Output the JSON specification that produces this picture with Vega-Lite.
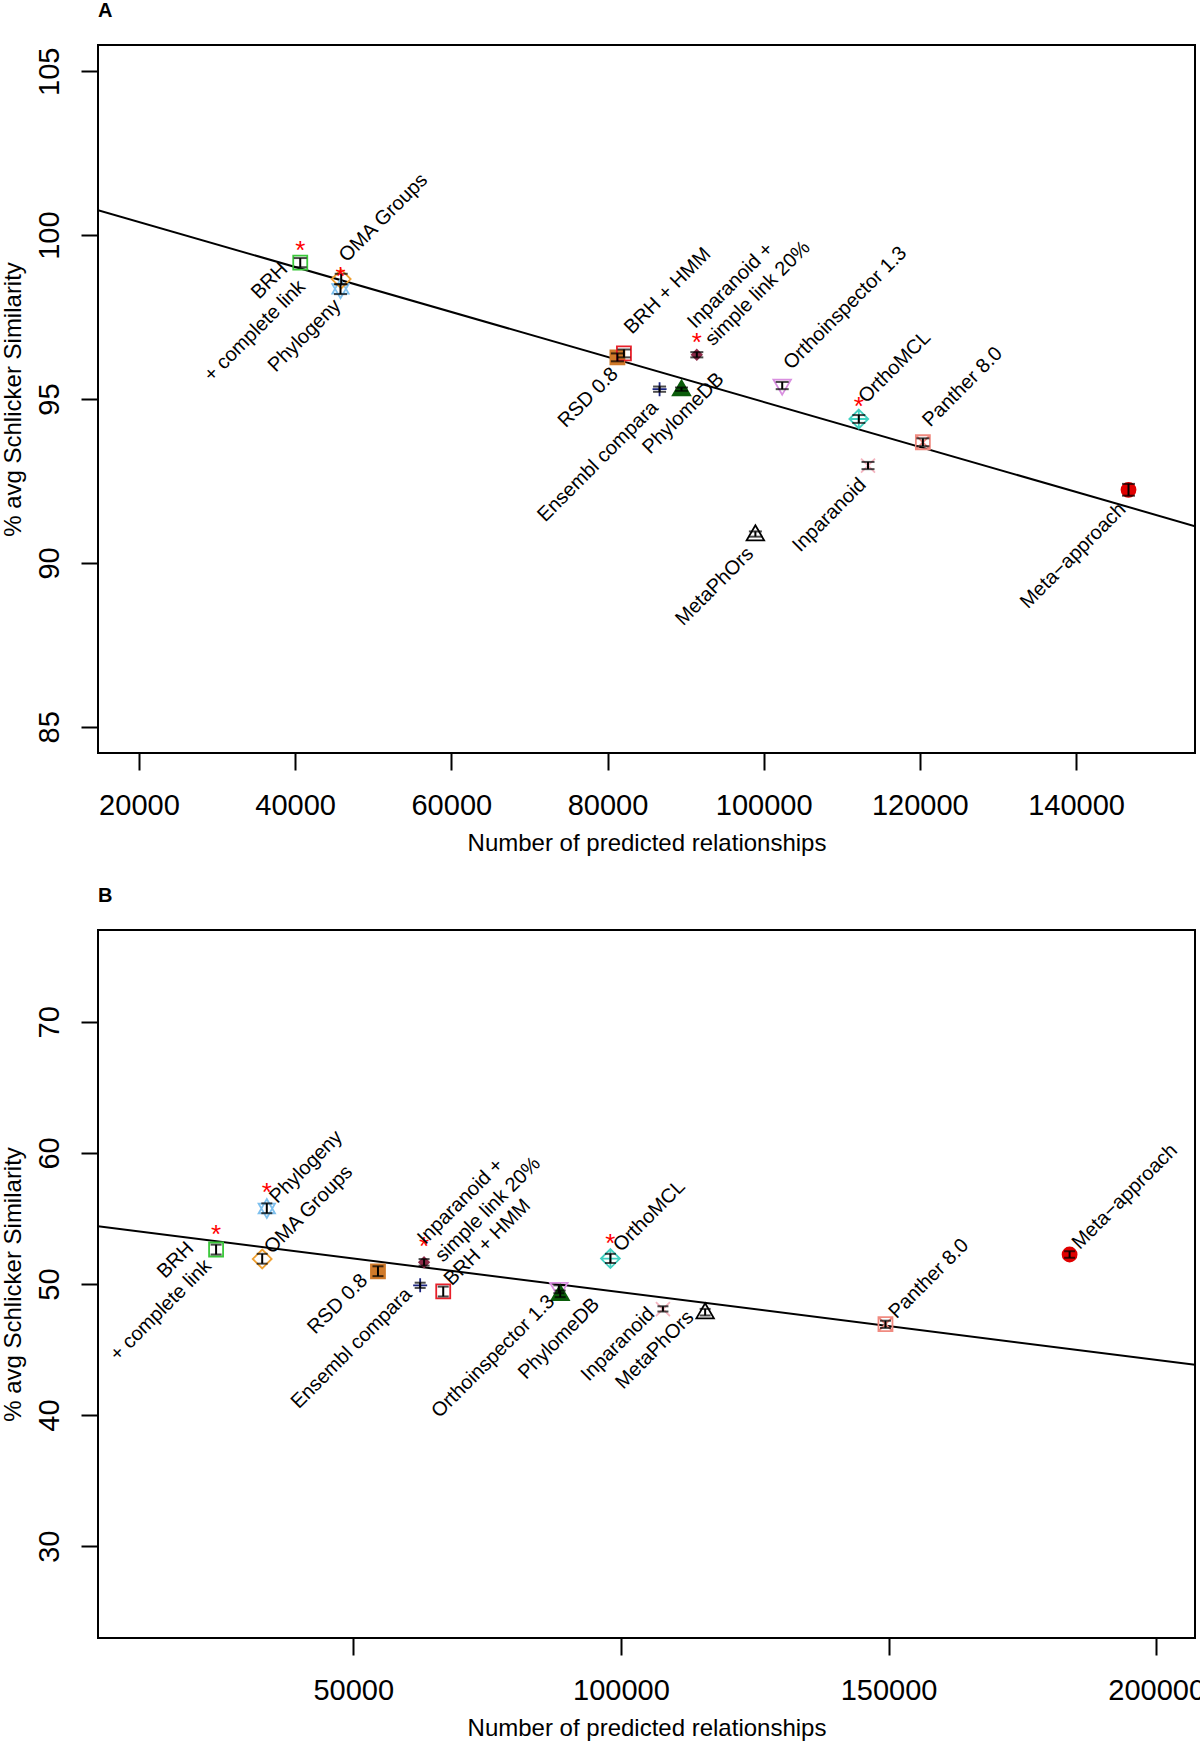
{
  "$schema": "https://vega.github.io/schema/vega-lite/v6.json",
  "padding": 0,
  "background": "white",
  "bounds": "flush",
  "spacing": 177,
  "config": {
    "font": "Liberation Sans",
    "view": {"stroke": "black", "strokeWidth": 2},
    "axis": {"grid": false, "domain": false, "ticks": true, "tickColor": "black", "tickWidth": 2, "tickSize": 17, "labelColor": "black", "labelFontSize": 29, "labelFont": "Liberation Sans", "titleFont": "Liberation Sans", "titleFontSize": 24, "titleFontWeight": "normal", "titleColor": "black", "labelOverlap": false, "labelFlush": false, "format": "d"},
    "axisX": {"labelPadding": 21, "titlePadding": 11},
    "axisY": {"labelAngle": -90, "labelAlign": "center", "labelBaseline": "bottom", "labelPadding": 17, "titlePadding": 10},
    "title": {"anchor": "start", "frame": "group", "fontSize": 20, "fontWeight": "bold", "offset": 24, "font": "Liberation Sans", "color": "black"}
  },
  "datasets": {
    "A": [
      {"method": "BRH + complete link", "x": 40654, "y": 99.16, "lo": 99.02, "hi": 99.30, "label": "BRH\n+ complete link", "lx": 38641, "ly": 99.06, "side": "right", "sig": true},
      {"method": "Phylogeny", "x": 45808, "y": 98.36, "lo": 98.2, "hi": 98.5, "label": "Phylogeny", "lx": 45436, "ly": 97.94, "side": "right", "sig": true},
      {"method": "OMA Groups", "x": 45900, "y": 98.66, "lo": 98.5, "hi": 98.82, "label": "OMA Groups", "lx": 46077, "ly": 99.28, "side": "left", "sig": false},
      {"method": "RSD 0.8", "x": 81269, "y": 96.27, "lo": 96.15, "hi": 96.39, "label": "RSD 0.8", "lx": 80949, "ly": 95.86, "side": "right", "sig": false},
      {"method": "BRH + HMM", "x": 82103, "y": 96.39, "lo": 96.27, "hi": 96.51, "label": "BRH + HMM", "lx": 82600, "ly": 97.08, "side": "left", "sig": false},
      {"method": "Inparanoid + simple link 20%", "x": 91436, "y": 96.35, "lo": 96.27, "hi": 96.43, "label": "Inparanoid +\nsimple link 20%", "lx": 90692, "ly": 97.26, "side": "left", "sig": true},
      {"method": "Ensembl compara", "x": 86667, "y": 95.30, "lo": 95.22, "hi": 95.38, "label": "Ensembl compara", "lx": 86077, "ly": 94.83, "side": "right", "sig": false},
      {"method": "PhylomeDB", "x": 89474, "y": 95.30, "lo": 95.25, "hi": 95.35, "label": "PhylomeDB", "lx": 94500, "ly": 95.70, "side": "right", "sig": false},
      {"method": "Orthoinspector 1.3", "x": 102372, "y": 95.40, "lo": 95.30, "hi": 95.52, "label": "Orthoinspector 1.3", "lx": 103000, "ly": 96.0, "side": "left", "sig": false},
      {"method": "OrthoMCL", "x": 112179, "y": 94.39, "lo": 94.27, "hi": 94.51, "label": "OrthoMCL", "lx": 112600, "ly": 94.98, "side": "left", "sig": true},
      {"method": "Panther 8.0", "x": 120385, "y": 93.68, "lo": 93.56, "hi": 93.80, "label": "Panther 8.0", "lx": 120800, "ly": 94.25, "side": "left", "sig": false},
      {"method": "Inparanoid", "x": 113359, "y": 92.97, "lo": 92.86, "hi": 93.08, "label": "Inparanoid", "lx": 112700, "ly": 92.48, "side": "right", "sig": false},
      {"method": "MetaPhOrs", "x": 98936, "y": 90.88, "lo": 90.80, "hi": 90.96, "label": "MetaPhOrs", "lx": 98300, "ly": 90.37, "side": "right", "sig": false},
      {"method": "Meta-approach", "x": 146718, "y": 92.23, "lo": 92.05, "hi": 92.41, "label": "Meta−approach", "lx": 145950, "ly": 91.72, "side": "right", "sig": false}
    ],
    "B": [
      {"method": "BRH + complete link", "x": 24363, "y": 52.63, "lo": 52.25, "hi": 53.0, "label": "BRH\n+ complete link", "lx": 19588, "ly": 52.96, "side": "right", "sig": true},
      {"method": "Phylogeny", "x": 33839, "y": 55.76, "lo": 55.4, "hi": 56.15, "label": "Phylogeny", "lx": 35000, "ly": 56.40, "side": "left", "sig": true},
      {"method": "OMA Groups", "x": 32978, "y": 51.91, "lo": 51.55, "hi": 52.3, "label": "OMA Groups", "lx": 34000, "ly": 52.55, "side": "left", "sig": false},
      {"method": "RSD 0.8", "x": 54607, "y": 50.97, "lo": 50.6, "hi": 51.35, "label": "RSD 0.8", "lx": 52080, "ly": 50.51, "side": "right", "sig": false},
      {"method": "Inparanoid + simple link 20%", "x": 63221, "y": 51.66, "lo": 51.4, "hi": 51.9, "label": "Inparanoid +\nsimple link 20%", "lx": 62659, "ly": 53.27, "side": "left", "sig": true},
      {"method": "Ensembl compara", "x": 62491, "y": 49.9, "lo": 49.7, "hi": 50.1, "label": "Ensembl compara", "lx": 60318, "ly": 49.44, "side": "right", "sig": false},
      {"method": "BRH + HMM", "x": 66798, "y": 49.44, "lo": 49.05, "hi": 49.8, "label": "BRH + HMM", "lx": 67622, "ly": 50.13, "side": "left", "sig": false},
      {"method": "Orthoinspector 1.3", "x": 88400, "y": 49.6, "lo": 49.3, "hi": 49.9, "label": "Orthoinspector 1.3", "lx": 87000, "ly": 48.91, "side": "right", "sig": false},
      {"method": "PhylomeDB", "x": 88652, "y": 49.25, "lo": 49.0, "hi": 49.5, "label": "PhylomeDB", "lx": 95400, "ly": 48.68, "side": "right", "sig": false},
      {"method": "OrthoMCL", "x": 98034, "y": 51.94, "lo": 51.6, "hi": 52.3, "label": "OrthoMCL", "lx": 99200, "ly": 52.70, "side": "left", "sig": true},
      {"method": "Inparanoid", "x": 107846, "y": 48.09, "lo": 47.9, "hi": 48.3, "label": "Inparanoid", "lx": 105700, "ly": 47.95, "side": "right", "sig": false},
      {"method": "MetaPhOrs", "x": 115730, "y": 47.86, "lo": 47.6, "hi": 48.1, "label": "MetaPhOrs", "lx": 113000, "ly": 47.70, "side": "right", "sig": false},
      {"method": "Panther 8.0", "x": 149419, "y": 46.94, "lo": 46.65, "hi": 47.2, "label": "Panther 8.0", "lx": 150700, "ly": 47.61, "side": "left", "sig": false},
      {"method": "Meta-approach", "x": 183820, "y": 52.25, "lo": 52.0, "hi": 52.5, "label": "Meta−approach", "lx": 184900, "ly": 52.90, "side": "left", "sig": false}
    ],
    "fitA": [{"x": 14756, "y": 100.76}, {"x": 155231, "y": 91.12}],
    "fitB": [{"x": 2303, "y": 54.41}, {"x": 207247, "y": 43.84}]
  },
  "resolve": {"scale": {"x": "independent", "y": "independent"}},
  "vconcat": [
    {
      "title": {"text": "A"},
      "width": 1097,
      "height": 708,
      "layer": [
        {
          "data": {"name": "fitA"},
          "mark": {"type": "line", "color": "black", "strokeWidth": 2, "clip": true},
          "encoding": {
            "x": {"field": "x", "type": "quantitative", "scale": {"domain": [14756, 155231], "nice": false, "zero": false}, "axis": {"values": [20000, 40000, 60000, 80000, 100000, 120000, 140000], "title": "Number of predicted relationships"}},
            "y": {"field": "y", "type": "quantitative", "scale": {"domain": [84.2, 105.8], "nice": false, "zero": false}, "axis": {"values": [85, 90, 95, 100, 105], "title": "% avg Schlicker Similarity"}}
          }
        },
        {
          "data": {"name": "A"},
          "mark": {"type": "point", "size": 196, "strokeWidth": 1.8, "opacity": 1},
          "encoding": {
            "x": {"field": "x", "type": "quantitative"},
            "y": {"field": "y", "type": "quantitative"},
            "shape": {"field": "method", "type": "nominal", "legend": null, "scale": {
              "domain": ["BRH + complete link", "Phylogeny", "OMA Groups", "RSD 0.8", "BRH + HMM", "Inparanoid + simple link 20%", "Ensembl compara", "PhylomeDB", "Orthoinspector 1.3", "OrthoMCL", "Panther 8.0", "Inparanoid", "MetaPhOrs", "Meta-approach"],
              "range": ["square", "M0,-1.35L1.17,0.68L-1.17,0.68Z M0,1.35L1.17,-0.68L-1.17,-0.68Z", "M0,-1.35L1.35,0L0,1.35L-1.35,0Z", "square", "square", "M0,-0.7L0.7,0L0,0.7L-0.7,0Z", "M-1,0L1,0M0,-1L0,1", "M0,-1.25L1.25,0.9L-1.25,0.9Z", "M0,1.25L1.25,-0.9L-1.25,-0.9Z", "M0,-1.35L1.35,0L0,1.35L-1.35,0Z M-1.35,0L1.35,0 M0,-1.35L0,1.35", "M-1,-1L1,-1L1,1L-1,1Z M-1,-1L1,1 M-1,1L1,-1", "M-1,-1L1,1M-1,1L1,-1", "M0,-1.25L1.25,0.9L-1.25,0.9Z", "circle"]}},
            "stroke": {"field": "method", "type": "nominal", "legend": null, "scale": {
              "domain": ["BRH + complete link", "Phylogeny", "OMA Groups", "RSD 0.8", "BRH + HMM", "Inparanoid + simple link 20%", "Ensembl compara", "PhylomeDB", "Orthoinspector 1.3", "OrthoMCL", "Panther 8.0", "Inparanoid", "MetaPhOrs", "Meta-approach"],
              "range": ["#3BC83B", "#7EC0EE", "#F0A030", "#D07A2A", "#E8202A", "#8B2A48", "#1A237E", "#0B5D0B", "#D98FE0", "#40D0C0", "#F08A80", "#F5B5C0", "#000000", "#E00000"]}},
            "fill": {"field": "method", "type": "nominal", "legend": null, "scale": {
              "domain": ["BRH + complete link", "Phylogeny", "OMA Groups", "RSD 0.8", "BRH + HMM", "Inparanoid + simple link 20%", "Ensembl compara", "PhylomeDB", "Orthoinspector 1.3", "OrthoMCL", "Panther 8.0", "Inparanoid", "MetaPhOrs", "Meta-approach"],
              "range": ["transparent", "transparent", "transparent", "#D07A2A", "transparent", "#8B2A48", "transparent", "#0B5D0B", "transparent", "transparent", "transparent", "transparent", "transparent", "#E00000"]}}
          }
        },
        {
          "data": {"name": "A"},
          "mark": {"type": "rule", "color": "black", "strokeWidth": 2},
          "encoding": {"x": {"field": "x", "type": "quantitative"}, "y": {"field": "lo", "type": "quantitative"}, "y2": {"field": "hi"}}
        },
        {
          "data": {"name": "A"},
          "mark": {"type": "point", "shape": "stroke", "size": 169, "stroke": "black", "strokeWidth": 2, "filled": false},
          "encoding": {"x": {"field": "x", "type": "quantitative"}, "y": {"field": "lo", "type": "quantitative"}}
        },
        {
          "data": {"name": "A"},
          "mark": {"type": "point", "shape": "stroke", "size": 169, "stroke": "black", "strokeWidth": 2, "filled": false},
          "encoding": {"x": {"field": "x", "type": "quantitative"}, "y": {"field": "hi", "type": "quantitative"}}
        },
        {
          "data": {"name": "A"},
          "transform": [{"filter": "datum.sig"}],
          "mark": {"type": "text", "text": "*", "color": "#FF0000", "fontSize": 26, "baseline": "middle", "dy": -12},
          "encoding": {"x": {"field": "x", "type": "quantitative"}, "y": {"field": "y", "type": "quantitative"}}
        },
        {
          "data": {"name": "A"},
          "transform": [{"filter": "datum.side === 'left'"}],
          "mark": {"type": "text", "angle": -45, "align": "left", "baseline": "middle", "fontSize": 20, "lineBreak": "\n", "lineHeight": 25, "color": "black"},
          "encoding": {"x": {"field": "lx", "type": "quantitative"}, "y": {"field": "ly", "type": "quantitative"}, "text": {"field": "label"}}
        },
        {
          "data": {"name": "A"},
          "transform": [{"filter": "datum.side === 'right'"}],
          "mark": {"type": "text", "angle": -45, "align": "right", "baseline": "middle", "fontSize": 20, "lineBreak": "\n", "lineHeight": 25, "color": "black"},
          "encoding": {"x": {"field": "lx", "type": "quantitative"}, "y": {"field": "ly", "type": "quantitative"}, "text": {"field": "label"}}
        }
      ]
    },
    {
      "title": {"text": "B"},
      "width": 1097,
      "height": 708,
      "layer": [
        {
          "data": {"name": "fitB"},
          "mark": {"type": "line", "color": "black", "strokeWidth": 2, "clip": true},
          "encoding": {
            "x": {"field": "x", "type": "quantitative", "scale": {"domain": [2303, 207247], "nice": false, "zero": false}, "axis": {"values": [50000, 100000, 150000, 200000], "title": "Number of predicted relationships"}},
            "y": {"field": "y", "type": "quantitative", "scale": {"domain": [23, 77], "nice": false, "zero": false}, "axis": {"values": [30, 40, 50, 60, 70], "title": "% avg Schlicker Similarity"}}
          }
        },
        {
          "data": {"name": "B"},
          "mark": {"type": "point", "size": 196, "strokeWidth": 1.8, "opacity": 1},
          "encoding": {
            "x": {"field": "x", "type": "quantitative"},
            "y": {"field": "y", "type": "quantitative"},
            "shape": {"field": "method", "type": "nominal", "legend": null, "scale": {
              "domain": ["BRH + complete link", "Phylogeny", "OMA Groups", "RSD 0.8", "BRH + HMM", "Inparanoid + simple link 20%", "Ensembl compara", "PhylomeDB", "Orthoinspector 1.3", "OrthoMCL", "Panther 8.0", "Inparanoid", "MetaPhOrs", "Meta-approach"],
              "range": ["square", "M0,-1.35L1.17,0.68L-1.17,0.68Z M0,1.35L1.17,-0.68L-1.17,-0.68Z", "M0,-1.35L1.35,0L0,1.35L-1.35,0Z", "square", "square", "M0,-0.7L0.7,0L0,0.7L-0.7,0Z", "M-1,0L1,0M0,-1L0,1", "M0,-1.25L1.25,0.9L-1.25,0.9Z", "M0,1.25L1.25,-0.9L-1.25,-0.9Z", "M0,-1.35L1.35,0L0,1.35L-1.35,0Z M-1.35,0L1.35,0 M0,-1.35L0,1.35", "M-1,-1L1,-1L1,1L-1,1Z M-1,-1L1,1 M-1,1L1,-1", "M-1,-1L1,1M-1,1L1,-1", "M0,-1.25L1.25,0.9L-1.25,0.9Z", "circle"]}},
            "stroke": {"field": "method", "type": "nominal", "legend": null, "scale": {
              "domain": ["BRH + complete link", "Phylogeny", "OMA Groups", "RSD 0.8", "BRH + HMM", "Inparanoid + simple link 20%", "Ensembl compara", "PhylomeDB", "Orthoinspector 1.3", "OrthoMCL", "Panther 8.0", "Inparanoid", "MetaPhOrs", "Meta-approach"],
              "range": ["#3BC83B", "#7EC0EE", "#F0A030", "#D07A2A", "#E8202A", "#8B2A48", "#1A237E", "#0B5D0B", "#D98FE0", "#40D0C0", "#F08A80", "#F5B5C0", "#000000", "#E00000"]}},
            "fill": {"field": "method", "type": "nominal", "legend": null, "scale": {
              "domain": ["BRH + complete link", "Phylogeny", "OMA Groups", "RSD 0.8", "BRH + HMM", "Inparanoid + simple link 20%", "Ensembl compara", "PhylomeDB", "Orthoinspector 1.3", "OrthoMCL", "Panther 8.0", "Inparanoid", "MetaPhOrs", "Meta-approach"],
              "range": ["transparent", "transparent", "transparent", "#D07A2A", "transparent", "#8B2A48", "transparent", "#0B5D0B", "transparent", "transparent", "transparent", "transparent", "transparent", "#E00000"]}}
          }
        },
        {
          "data": {"name": "B"},
          "mark": {"type": "rule", "color": "black", "strokeWidth": 2},
          "encoding": {"x": {"field": "x", "type": "quantitative"}, "y": {"field": "lo", "type": "quantitative"}, "y2": {"field": "hi"}}
        },
        {
          "data": {"name": "B"},
          "mark": {"type": "point", "shape": "stroke", "size": 121, "stroke": "black", "strokeWidth": 2, "filled": false},
          "encoding": {"x": {"field": "x", "type": "quantitative"}, "y": {"field": "lo", "type": "quantitative"}}
        },
        {
          "data": {"name": "B"},
          "mark": {"type": "point", "shape": "stroke", "size": 121, "stroke": "black", "strokeWidth": 2, "filled": false},
          "encoding": {"x": {"field": "x", "type": "quantitative"}, "y": {"field": "hi", "type": "quantitative"}}
        },
        {
          "data": {"name": "B"},
          "transform": [{"filter": "datum.sig"}],
          "mark": {"type": "text", "text": "*", "color": "#FF0000", "fontSize": 26, "baseline": "middle", "dy": -15},
          "encoding": {"x": {"field": "x", "type": "quantitative"}, "y": {"field": "y", "type": "quantitative"}}
        },
        {
          "data": {"name": "B"},
          "transform": [{"filter": "datum.side === 'left'"}],
          "mark": {"type": "text", "angle": -45, "align": "left", "baseline": "middle", "fontSize": 20, "lineBreak": "\n", "lineHeight": 25, "color": "black"},
          "encoding": {"x": {"field": "lx", "type": "quantitative"}, "y": {"field": "ly", "type": "quantitative"}, "text": {"field": "label"}}
        },
        {
          "data": {"name": "B"},
          "transform": [{"filter": "datum.side === 'right'"}],
          "mark": {"type": "text", "angle": -45, "align": "right", "baseline": "middle", "fontSize": 20, "lineBreak": "\n", "lineHeight": 25, "color": "black"},
          "encoding": {"x": {"field": "lx", "type": "quantitative"}, "y": {"field": "ly", "type": "quantitative"}, "text": {"field": "label"}}
        }
      ]
    }
  ]
}
